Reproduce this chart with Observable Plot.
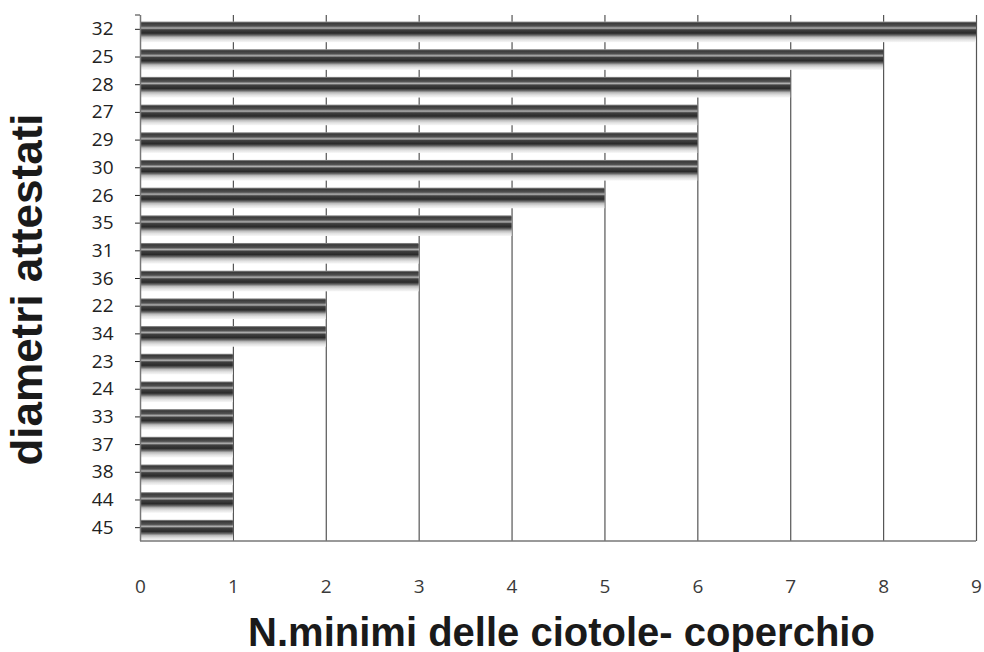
<!DOCTYPE html>
<html>
<head>
<meta charset="utf-8">
<script src="https://cdn.jsdelivr.net/npm/d3@7"></script>
<script src="https://cdn.jsdelivr.net/npm/@observablehq/plot@0.6"></script>
<style>
  html, body { margin: 0; padding: 0; background: #fff; }
  #chart svg [aria-label="x-axis tick label"] text { fill: #3a3a3a; }
</style>
</head>
<body>
<div id="chart"></div>
<script>
const diameters = ["32","25","28","27","29","30","26","35","31","36","22","34","23","24","33","37","38","44","45"];
const counts    = [9, 8, 7, 6, 6, 6, 5, 4, 3, 3, 2, 2, 1, 1, 1, 1, 1, 1, 1];
const xTicks = [0,1,2,3,4,5,6,7,8,9];
const xTitle = "N.minimi delle ciotole- coperchio";
const yTitle = "diametri attestati";

const data = diameters.map((d, i) => ({diametro: d, n: counts[i]}));

// frame lines: bottom axis line and small top tick on the y axis
function frameLines(index, scales, values, dims) {
  const g = d3.create("svg:g");
  const l = dims.marginLeft, r = dims.width - dims.marginRight;
  const t = dims.marginTop, b = dims.height - dims.marginBottom;
  g.append("line").attr("x1", l).attr("x2", r).attr("y1", b).attr("y2", b)
    .attr("stroke", "#777").attr("stroke-width", 1.5);
  g.append("line").attr("x1", l - 5).attr("x2", l).attr("y1", t).attr("y2", t)
    .attr("stroke", "#555").attr("stroke-width", 1.2);
  return g.node();
}

const chart = Plot.plot({
  width: 984,
  height: 652,
  marginLeft: 140,
  marginRight: 8,
  marginTop: 15,
  marginBottom: 111,
  style: {fontFamily: "'Open Sans', sans-serif", fontSize: "19px", background: "#fff", color: "#222"},
  x: {domain: [0, 9], ticks: xTicks, tickSize: 0, tickPadding: 38, label: null, tickFormat: d3.format("d")},
  y: {domain: diameters, padding: 0, round: false, tickSize: 5, tickPadding: 22, label: null},
  marks: [
    Plot.ruleX(xTicks.filter(d => d > 0), {stroke: "#555", strokeWidth: 1.2}),
    Plot.barX(data, {y: "diametro", x: "n", fill: "url(#cyl)", insetTop: 6.5, insetBottom: 0.5}),
    Plot.ruleX([0], {stroke: "#777", strokeWidth: 1.5}),
    frameLines,
    Plot.text([xTitle], {frameAnchor: "bottom", lineAnchor: "bottom", dy: 104, dx: 3, fontSize: 40, fontWeight: "bold", fontFamily: "'Liberation Sans', Arial, sans-serif", fill: "#1a1a1a"}),
    Plot.text([yTitle], {frameAnchor: "left", textAnchor: "middle", lineAnchor: "middle", rotate: -90, dx: -113, dy: 11, fontSize: 44, fontWeight: "bold", fontFamily: "'Liberation Sans', Arial, sans-serif", fill: "#1a1a1a"})
  ]
});

// gradient definition for cylinder-like bars
const ns = "http://www.w3.org/2000/svg";
const defs = document.createElementNS(ns, "defs");
const grad = document.createElementNS(ns, "linearGradient");
grad.setAttribute("id", "cyl");
grad.setAttribute("x1", "0"); grad.setAttribute("y1", "0");
grad.setAttribute("x2", "0"); grad.setAttribute("y2", "1");
[["0", "#9a9a9a"], ["0.08", "#3a3a3a"], ["0.22", "#505050"], ["0.32", "#b0b0b0"], ["0.40", "#404040"], ["0.56", "#2a2a2a"], ["0.66", "#666"], ["0.76", "#bbb"], ["0.88", "#e2e2e2"], ["1", "#f7f7f7"]]
  .forEach(([o, c]) => {
    const s = document.createElementNS(ns, "stop");
    s.setAttribute("offset", o);
    s.setAttribute("stop-color", c);
    grad.appendChild(s);
  });
defs.appendChild(grad);
chart.insertBefore(defs, chart.firstChild);

document.getElementById("chart").appendChild(chart);
</script>
</body>
</html>
